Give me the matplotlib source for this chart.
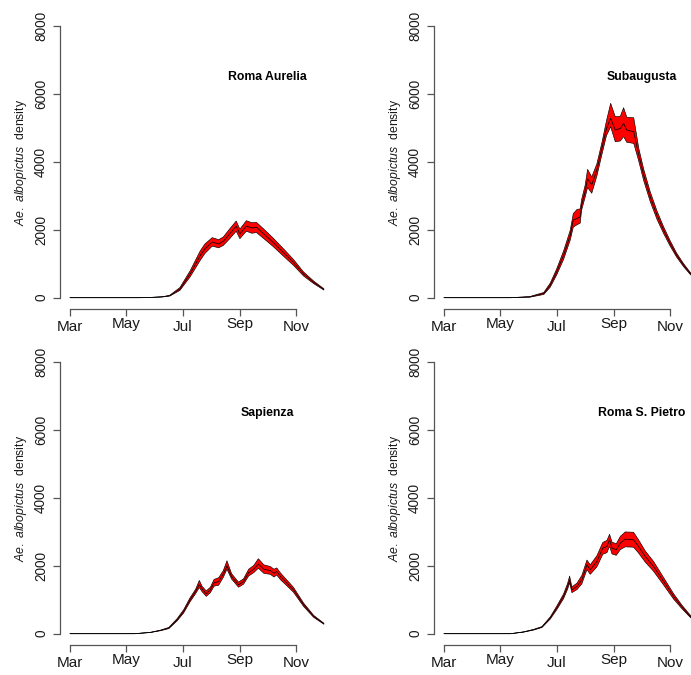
import matplotlib
matplotlib.use('Agg')
import matplotlib.pyplot as plt

# days counted from 1 March
sites = ['Roma Aurelia', 'Subaugusta', 'Sapienza', 'Roma S. Pietro']

aurelia_days = [0, 75, 85, 100, 108, 119, 130, 141, 146, 154, 161, 166, 173, 180, 184, 191, 197, 202, 210, 220, 231, 242, 253, 264, 275]
aurelia_med = [0, 0, 5, 25, 59, 256, 700, 1240, 1437, 1640, 1585, 1662, 1880, 2110, 1880, 2110, 2057, 2075, 1880, 1633, 1338, 1042, 700, 452, 245]
aurelia_lo = [0, 0, 4, 21, 48, 215, 610, 1100, 1300, 1520, 1470, 1540, 1740, 1960, 1740, 1960, 1900, 1920, 1740, 1510, 1230, 955, 640, 415, 225]
aurelia_hi = [0, 0, 6, 29, 72, 300, 790, 1380, 1580, 1770, 1710, 1790, 2030, 2260, 2020, 2270, 2210, 2220, 2020, 1760, 1450, 1130, 760, 490, 265]

subaug_days = [0, 72, 93, 108, 115, 122, 129.5, 136.7, 140, 144, 147.5, 149, 152.8, 155.5, 160, 165.5, 171, 176, 180.5, 185.5, 191, 194.5, 198, 205.5, 211, 216.3, 223.4, 230.7, 237.9, 245, 252, 259.5, 266.8, 275]
subaug_med = [0, 0, 25, 124, 369, 761, 1254, 1844, 2286, 2336, 2384, 2729, 3122, 3500, 3330, 3761, 4400, 4991, 5286, 4941, 4991, 5138, 4941, 4891, 4204, 3614, 2974, 2434, 1991, 1599, 1254, 959, 714, 500]
subaug_lo = [0, 0, 15, 95, 310, 670, 1130, 1700, 2080, 2150, 2200, 2580, 2960, 3250, 3080, 3580, 4220, 4780, 5038, 4596, 4620, 4750, 4580, 4549, 4020, 3450, 2830, 2310, 1890, 1520, 1195, 915, 685, 480]
subaug_hi = [0, 0, 35, 155, 430, 850, 1380, 1990, 2480, 2600, 2620, 2890, 3310, 3782, 3560, 3940, 4570, 5220, 5730, 5333, 5350, 5600, 5320, 5304, 4400, 3790, 3120, 2560, 2090, 1680, 1315, 1005, 745, 520]

sapienza_days = [0, 70, 87, 98, 107, 116, 123, 130, 136, 140, 143, 147.5, 152, 156, 161, 166, 170, 175, 182.5, 188, 193.5, 199, 204, 210, 217, 221, 224, 228, 235, 242, 253, 264, 275]
sapienza_med = [0, 0, 38, 97, 167, 412, 657, 1001, 1246, 1450, 1320, 1180, 1290, 1500, 1540, 1760, 2000, 1688, 1443, 1540, 1800, 1900, 2050, 1900, 1860, 1780, 1830, 1688, 1492, 1296, 854, 510, 294]
sapienza_lo = [0, 0, 34, 88, 150, 380, 610, 940, 1180, 1360, 1240, 1100, 1210, 1400, 1430, 1660, 1900, 1610, 1370, 1460, 1700, 1800, 1930, 1780, 1750, 1670, 1730, 1590, 1410, 1225, 805, 480, 280]
sapienza_hi = [0, 0, 42, 106, 185, 445, 705, 1060, 1310, 1570, 1400, 1260, 1370, 1600, 1650, 1860, 2150, 1770, 1520, 1620, 1900, 2010, 2210, 2030, 1980, 1900, 1940, 1790, 1580, 1370, 905, 540, 310]

pietro_days = [0, 72, 86, 97, 106, 115, 122, 129.4, 133.8, 136, 138.5, 144, 149.3, 154.8, 158.4, 165.6, 172, 176.5, 179.3, 182, 186.6, 191, 196.3, 205.3, 210.7, 218, 227, 238, 248.7, 257.8, 266.8, 275]
pietro_med = [0, 0, 50, 118, 196, 461, 756, 1099, 1393, 1590, 1296, 1393, 1590, 2032, 1885, 2130, 2523, 2572, 2768, 2523, 2474, 2670, 2788, 2768, 2572, 2277, 1982, 1540, 1099, 786, 510, 330]
pietro_lo = [0, 0, 45, 108, 182, 430, 705, 1030, 1310, 1500, 1210, 1300, 1470, 1890, 1750, 1970, 2340, 2390, 2580, 2350, 2310, 2480, 2560, 2550, 2380, 2110, 1840, 1430, 1020, 735, 480, 310]
pietro_hi = [0, 0, 55, 128, 210, 495, 810, 1170, 1480, 1700, 1380, 1490, 1720, 2170, 2030, 2300, 2690, 2750, 2930, 2700, 2650, 2870, 3000, 2990, 2770, 2440, 2130, 1650, 1180, 840, 545, 350]

month_pos = [0, 61, 122, 184, 245]
month_lab = ['Mar', 'May', 'Jul', 'Sep', 'Nov']
yticks = [0, 2000, 4000, 6000, 8000]

plt.rcParams['font.family'] = ['Liberation Sans', 'DejaVu Sans']
plt.rcParams['mathtext.fontset'] = 'custom'
plt.rcParams['mathtext.rm'] = 'Liberation Sans'
plt.rcParams['mathtext.it'] = 'Liberation Sans:italic'

W, H = 691, 675
fig = plt.figure(figsize=(W / 100, H / 100), dpi=100)

# plot regions in pixels: (left, top) ; size 274 x 294
pw, ph = 274, 294
corners = [(60, 15), (434, 15), (60, 351), (434, 351)]
data = [
    (aurelia_days, aurelia_med, aurelia_lo, aurelia_hi),
    (subaug_days, subaug_med, subaug_lo, subaug_hi),
    (sapienza_days, sapienza_med, sapienza_lo, sapienza_hi),
    (pietro_days, pietro_med, pietro_lo, pietro_hi),
]

axcol = '#555555'
txtcol = '#1a1a1a'

for (px, py), site, (d, med, lo, hi) in zip(corners, sites, data):
    ax = fig.add_axes([px / W, (H - py - ph) / H, pw / W, ph / H])
    ax.fill_between(d, lo, hi, facecolor='red', edgecolor='none', zorder=2)
    ax.plot(d, lo, color='black', lw=0.45, zorder=3)
    ax.plot(d, hi, color='black', lw=0.45, zorder=3)
    ax.plot(d, med, color='black', lw=0.55, zorder=3)

    ax.set_xlim(-11, 286)
    ax.set_ylim(-333, 8333)
    ax.patch.set_visible(False)
    for s in ['top', 'right']:
        ax.spines[s].set_visible(False)
    for s in ['left', 'bottom']:
        ax.spines[s].set_color(axcol)
        ax.spines[s].set_linewidth(0.9)
    ax.spines['left'].set_bounds(0, 8000)
    ax.spines['bottom'].set_bounds(0, 245)

    ax.set_xticks(month_pos)
    ax.set_xticklabels([])
    ax.set_yticks(yticks)
    ax.set_yticklabels([str(v) for v in yticks], rotation=90, va='center',
                       fontsize=9.8, color=txtcol)
    ax.tick_params(length=5, width=0.9, color=axcol)
    ax.tick_params(axis='y', pad=3.5)

    for pos, lab in zip(month_pos, month_lab):
        shift = -8 if lab in ('May', 'Sep') else -11
        ax.annotate(lab, xy=(pos, 0), xycoords=('data', 'axes fraction'),
                    xytext=(0, shift), textcoords='offset pixels',
                    ha='center', va='top', fontsize=11, color=txtcol,
                    annotation_clip=False)

    ax.text(-39 / pw, 0.5, r'$\mathit{Ae.\ albopictus}$  density', rotation=90,
            ha='center', va='center', fontsize=8.8, color=txtcol, transform=ax.transAxes)
    ax.text(214, 6500, site, ha='center', va='center', fontsize=8.8,
            fontweight='bold', color='black')

fig.savefig('out.png', dpi=100)
